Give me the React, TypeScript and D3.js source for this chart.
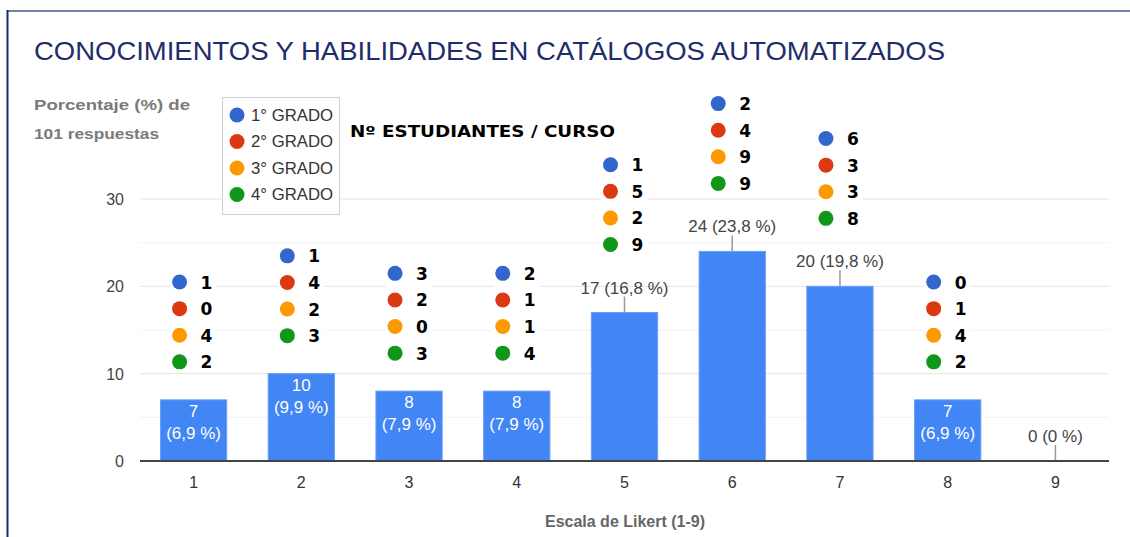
import React from "react";
import * as d3 from "d3";

// Likert scale categories and responses
const categories = ["1", "2", "3", "4", "5", "6", "7", "8", "9"];
const counts = [7, 10, 8, 8, 17, 24, 20, 7, 0];
const percents = ["6,9", "9,9", "7,9", "7,9", "16,8", "23,8", "19,8", "6,9", "0"];

// students per course for each category (none for 9)
const grado1 = [1, 1, 3, 2, 1, 2, 6, 0];
const grado2 = [0, 4, 2, 1, 5, 4, 3, 1];
const grado3 = [4, 2, 0, 1, 2, 9, 3, 4];
const grado4 = [2, 3, 3, 4, 9, 9, 8, 2];

const gradeNames = ["1° GRADO", "2° GRADO", "3° GRADO", "4° GRADO"];
const gradeColors = ["#3366cc", "#dc3912", "#ff9900", "#109618"];
const yTicks = [0, 10, 20, 30];
const yMinor = [5, 15, 25];

const W = 1130;
const H = 537;
const FONT = "'Liberation Sans', Arial, sans-serif";

const App: React.FC = () => {
  const x = d3.scaleBand<string>().domain(categories).range([140, 1109]).paddingInner(0.385).paddingOuter(0.19);
  const y = d3.scaleLinear().domain([0, 30]).range([461, 199]);
  const grades = [grado1, grado2, grado3, grado4];

  return (
    <svg width={W} height={H} style={{ position: "absolute", left: 0, top: 0, background: "#fff" }}>
      {/* frame */}
      <line x1={7} x2={W} y1={11} y2={11} stroke="#7383a8" strokeWidth={2} />
      <line x1={7.5} x2={7.5} y1={10} y2={H} stroke="#1b2a6b" strokeWidth={2} />

      <text x={34} y={60} fontFamily={FONT} fontSize={26} fill="#1f2d6b" textLength={911} lengthAdjust="spacingAndGlyphs">
        CONOCIMIENTOS Y HABILIDADES EN CATÁLOGOS AUTOMATIZADOS
      </text>

      <text x={34} y={110} fontFamily={FONT} fontSize={15} fontWeight="bold" fill="#7a7a7a" textLength={156} lengthAdjust="spacingAndGlyphs">
        Porcentaje (%) de
      </text>
      <text x={34} y={139} fontFamily={FONT} fontSize={15} fontWeight="bold" fill="#7a7a7a" textLength={125} lengthAdjust="spacingAndGlyphs">
        101 respuestas
      </text>

      {/* gridlines */}
      {yMinor.map((t) => (
        <line key={"m" + t} x1={140} x2={1109} y1={y(t)} y2={y(t)} stroke="#f2f2f2" />
      ))}
      {yTicks.map((t) => (
        <g key={"t" + t}>
          <line x1={140} x2={1109} y1={y(t)} y2={y(t)} stroke="#e3e3e3" />
          <text x={124} y={y(t) + 6} textAnchor="end" fontFamily={FONT} fontSize={16} fill="#444">
            {t}
          </text>
        </g>
      ))}

      {/* bars and value labels */}
      {categories.map((c, i) => {
        const v = counts[i];
        const x0 = x(c)!;
        const cx = x0 + x.bandwidth() / 2;
        const top = y(v);
        const inside = v > 0 && v <= 10;
        return (
          <g key={"b" + c}>
            {v > 0 && (
              <rect x={x0} y={top} width={x.bandwidth()} height={y(0) - top} fill="#4285f4" stroke="#6a9ef7" strokeWidth={1} />
            )}
            {inside ? (
              <g fontFamily={FONT} fontSize={17} fill="#fff" textAnchor="middle">
                <text x={cx} y={top + 17}>{v}</text>
                <text x={cx} y={top + 39}>({percents[i]} %)</text>
              </g>
            ) : (
              <g>
                <line x1={cx} x2={cx} y1={top - 16} y2={top} stroke="#999" strokeWidth={1.5} />
                <text x={cx} y={top - 19} textAnchor="middle" fontFamily={FONT} fontSize={17} fill="#444">
                  {v} ({percents[i]} %)
                </text>
              </g>
            )}
            <text x={cx} y={488} textAnchor="middle" fontFamily={FONT} fontSize={16} fill="#333">
              {c}
            </text>
          </g>
        );
      })}

      {/* axis baseline */}
      <line x1={140} x2={1109} y1={y(0)} y2={y(0)} stroke="#444" strokeWidth={2} />

      <text x={625} y={527} textAnchor="middle" fontFamily={FONT} fontSize={16} fontWeight="bold" fill="#666">
        Escala de Likert (1-9)
      </text>

      {/* students per course annotations */}
      {grado1.map((_, i) => {
        const c = categories[i];
        const v = counts[i];
        const cx = x(c)! + x.bandwidth() / 2;
        const inside = v > 0 && v <= 10;
        const bottom = y(v) - (inside ? 38 : 68);
        const step = 26.6;
        return (
          <g key={"a" + c}>
            <rect x={cx - 23} y={bottom - 3 * step - 11} width={46} height={3 * step + 22} fill="#fff" />
            {grades.map((g, k) => {
              const cy = bottom - (3 - k) * step;
              return (
                <g key={k}>
                  <circle cx={cx - 14} cy={cy} r={7.5} fill={gradeColors[k]} />
                  <text x={cx + 7} y={cy + 6.5} fontFamily="'DejaVu Sans', sans-serif" fontSize={17} fontWeight="bold" fill="#000">
                    {g[i]}
                  </text>
                </g>
              );
            })}
          </g>
        );
      })}

      {/* legend */}
      <rect x={222.5} y={97.5} width={117} height={117} fill="#fff" stroke="#d0d0d0" />
      {gradeNames.map((n, k) => (
        <g key={n}>
          <circle cx={237} cy={115 + k * 26.5} r={7.5} fill={gradeColors[k]} />
          <text x={251} y={120.5 + k * 26.5} fontFamily={FONT} fontSize={16} fill="#333" textLength={82} lengthAdjust="spacingAndGlyphs">
            {n}
          </text>
        </g>
      ))}

      <text x={350} y={137} fontFamily="'DejaVu Sans', sans-serif" fontSize={16} fontWeight="bold" fill="#000" textLength={265} lengthAdjust="spacingAndGlyphs">
        Nº ESTUDIANTES / CURSO
      </text>
    </svg>
  );
};

export default App;
